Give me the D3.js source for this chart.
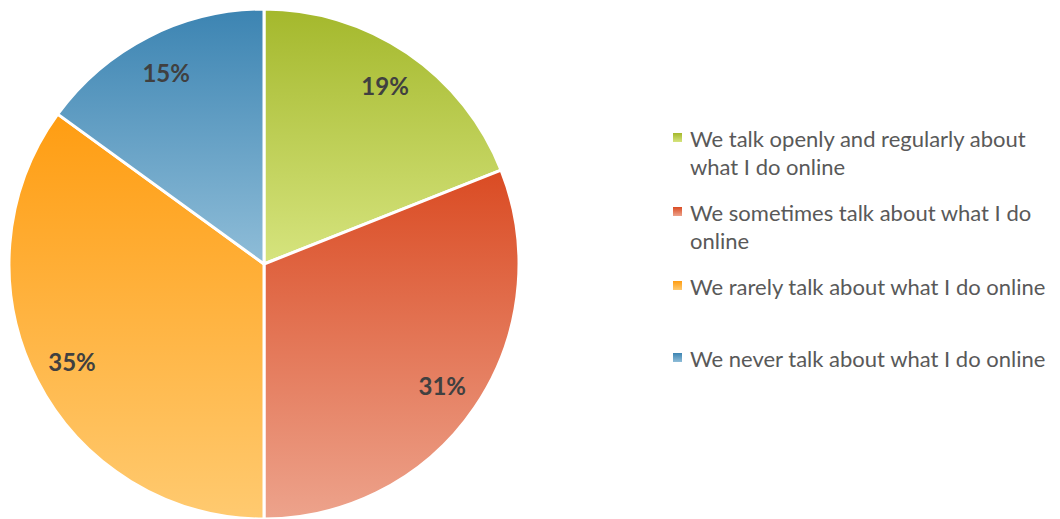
<!DOCTYPE html>
<html>
<head>
<meta charset="utf-8">
<script src="https://cdn.jsdelivr.net/npm/d3@7"></script>
<style>
html,body{margin:0;padding:0;background:#fff;}
svg{display:block;}
</style>
</head>
<body>
<svg id="chart" width="1060" height="519"></svg>
<script>
const categories = [
  "We talk openly and regularly about what I do online",
  "We sometimes talk about what I do online",
  "We rarely talk about what I do online",
  "We never talk about what I do online"
];
const legendLines = [
  ["We talk openly and regularly about", "what I do online"],
  ["We sometimes talk about what I do", "online"],
  ["We rarely talk about what I do online"],
  ["We never talk about what I do online"]
];
const values = [19, 31, 35, 15];
const labels = ["19%", "31%", "35%", "15%"];
const colorsTop = ["#a4b82c", "#da4b23", "#ff9d12", "#3c84b2"];
const colorsBottom = ["#d6e47e", "#eda38c", "#ffca70", "#8fbdd8"];

const svg = d3.select("#chart");
const cx = 264, cy = 264, r = 255;

const defs = svg.append("defs");
values.forEach((v, i) => {
  const g = defs.append("linearGradient")
    .attr("id", "grad" + i)
    .attr("x1", 0).attr("y1", 0).attr("x2", 0).attr("y2", 1);
  g.append("stop").attr("offset", "0%").attr("stop-color", colorsTop[i]);
  g.append("stop").attr("offset", "100%").attr("stop-color", colorsBottom[i]);
});

const pie = d3.pie().sort(null).value(d => d);
const arcs = pie(values);
const arc = d3.arc().innerRadius(0).outerRadius(r);

const gPie = svg.append("g").attr("transform", `translate(${cx},${cy})`);
gPie.selectAll("path.slice")
  .data(arcs)
  .enter().append("path")
  .attr("class", "slice")
  .attr("d", arc)
  .attr("fill", (d, i) => `url(#grad${i})`)
  .attr("stroke", "#fff")
  .attr("stroke-width", 3)
  .attr("stroke-linejoin", "round");

const labelArc = d3.arc().innerRadius(r * 0.845).outerRadius(r * 0.845);
gPie.selectAll("text.lbl")
  .data(arcs)
  .enter().append("text")
  .attr("class", "lbl")
  .attr("transform", d => {
    const c = labelArc.centroid(d);
    return `translate(${c[0]},${c[1]})`;
  })
  .attr("text-anchor", "middle")
  .attr("dominant-baseline", "central")
  .attr("font-family", "Lato, 'Open Sans', sans-serif")
  .attr("font-weight", "bold")
  .attr("font-size", 24)
  .attr("fill", "#404040")
  .text((d, i) => labels[i]);

// Legend
const legendY = [138, 212, 286, 358];
const lg = svg.append("g");
legendLines.forEach((lines, i) => {
  const y = legendY[i];
  lg.append("rect")
    .attr("x", 673).attr("y", y - 5)
    .attr("width", 9).attr("height", 9)
    .attr("fill", `url(#grad${i})`);
  lines.forEach((t, j) => {
    lg.append("text")
      .attr("x", 690).attr("y", y + j * 28)
      .attr("dominant-baseline", "central")
      .attr("font-family", "Lato, 'Open Sans', sans-serif")
      .attr("font-size", 22)
      .attr("fill", "#595959")
      .text(t);
  });
});
</script>
</body>
</html>
